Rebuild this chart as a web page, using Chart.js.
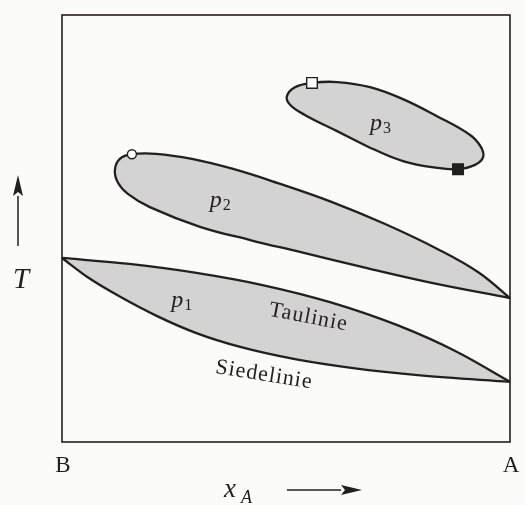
<!DOCTYPE html>
<html>
<head>
<meta charset="utf-8">
<script src="https://cdn.jsdelivr.net/npm/chart.js@4.4.1/dist/chart.umd.min.js"></script>
<style>
  html, body { margin: 0; padding: 0; background: #fbfbf9; }
  canvas { display: block; }
</style>
</head>
<body>
<canvas id="chart" width="525" height="505"></canvas>
<script>
// x: mole fraction of A in % (0 = pure B, 100 = pure A), T: temperature (arbitrary units)

// p1: dew line (Taulinie) and boiling line (Siedelinie)
const tauX  = [0, 15, 30, 45, 60, 75, 88, 100];
const tauT  = [43.1, 41.7, 39.6, 36.7, 32.7, 27.3, 21.2, 14.1];
const siedX = [0, 6, 13, 21, 30, 40, 52, 65, 80, 100];
const siedT = [43.1, 38.4, 34.0, 29.6, 25.5, 22.2, 19.4, 17.3, 15.6, 14.1];

// p2: closed loop, starts and ends at the tip on the A side
const p2X = [100, 93, 84, 72, 60, 48, 38, 29, 21, 15.6, 12.9, 11.8, 12.5, 14.7, 19.6, 30.8, 42.0, 53.1, 68.1, 82.8, 100];
const p2T = [33.7, 39.7, 45.1, 51.1, 56.3, 60.7, 64.0, 66.3, 67.5, 67.4, 66.3, 63.7, 60.7, 58.1, 55.0, 50.4, 47.3, 44.5, 40.7, 37.2, 33.7];

// p3: closed loop
const p3X = [68.75, 76.1, 83.7, 88.4, 92.2, 94.0, 93.5, 91.1, 83.7, 76.1, 68.75, 61.4, 55.8, 52.0, 50.2, 50.9, 54.2, 61.4, 68.75];
const p3T = [68.9, 65.8, 64.2, 63.9, 64.9, 66.7, 69.1, 71.9, 76.3, 80.3, 83.1, 84.3, 84.1, 83.1, 81.0, 79.0, 76.6, 72.8, 68.9];

// special points: open circle, open square, filled square
const markX = [15.6, 55.8, 88.4];
const markT = [67.4, 84.1, 63.9];

// label anchors
const pLabels = [
  { x: 26.6, t: 31.6, idx: '1' },
  { x: 35.2, t: 55.0, idx: '2' },
  { x: 71.0, t: 73.1, idx: '3' }
];
const lineLabels = [
  { text: 'Taulinie',   x: 55.0, t: 29.2, angle: 11 },
  { text: 'Siedelinie', x: 45.1, t: 15.7, angle: 9 }
];

const INK   = '#231f1f';
const GRAY  = '#d3d3d3';
const SERIF = '"Liberation Serif", "DejaVu Serif", serif';

const zip = (xs, ys) => xs.map((x, i) => ({ x, y: ys[i] }));

const curve = (data, extra) => Object.assign({
  data,
  showLine: true,
  borderColor: INK,
  borderWidth: 2.3,
  backgroundColor: GRAY,
  pointRadius: 0,
  pointHoverRadius: 0,
  tension: 0.4,
  clip: false
}, extra);

// ── Frame, labels and arrows ─────────────────
const decor = {
  id: 'decor',
  beforeDatasetsDraw(chart) {
    const { ctx, chartArea: a } = chart;
    ctx.save();
    ctx.strokeStyle = INK;
    ctx.lineWidth = 1.6;
    ctx.strokeRect(a.left, a.top, a.right - a.left, a.bottom - a.top);
    ctx.restore();
  },
  afterDatasetsDraw(chart) {
    const { ctx, chartArea: a, scales: { x, y } } = chart;
    ctx.save();
    ctx.fillStyle = INK;
    ctx.strokeStyle = INK;

    // p1, p2, p3
    pLabels.forEach(l => {
      const cx = x.getPixelForValue(l.x), by = y.getPixelForValue(l.t);
      ctx.font = `italic 24px ${SERIF}`;
      const w1 = ctx.measureText('p').width;
      ctx.font = `16px ${SERIF}`;
      const w2 = ctx.measureText(l.idx).width;
      const left = cx - (w1 + w2) / 2;
      ctx.textAlign = 'left';
      ctx.textBaseline = 'alphabetic';
      ctx.font = `italic 24px ${SERIF}`;
      ctx.fillText('p', left, by);
      ctx.font = `16px ${SERIF}`;
      ctx.fillText(l.idx, left + w1 + 1, by + 3);
    });

    // Taulinie / Siedelinie along the curves
    ctx.font = `22px ${SERIF}`;
    ctx.letterSpacing = '1px';
    ctx.textAlign = 'center';
    ctx.textBaseline = 'middle';
    lineLabels.forEach(l => {
      ctx.save();
      ctx.translate(x.getPixelForValue(l.x), y.getPixelForValue(l.t));
      ctx.rotate(l.angle * Math.PI / 180);
      ctx.fillText(l.text, 0, 0);
      ctx.restore();
    });
    ctx.letterSpacing = '0px';

    // B and A under the ends of the composition axis
    ctx.font = `23px ${SERIF}`;
    ctx.textBaseline = 'alphabetic';
    ctx.fillText('B', a.left + 1, 472);
    ctx.fillText('A', a.right + 1, 472);

    // x_A with arrow
    ctx.textAlign = 'left';
    ctx.font = `italic 27px ${SERIF}`;
    ctx.fillText('x', 224, 497);
    ctx.font = `italic 18px ${SERIF}`;
    ctx.fillText('A', 241, 503);
    arrow(ctx, 287, 490, 362, 490);

    // T with arrow
    ctx.textAlign = 'center';
    ctx.font = `italic 29px ${SERIF}`;
    ctx.fillText('T', 21, 288);
    arrow(ctx, 18, 246, 18, 175);

    ctx.restore();
  }
};

function arrow(ctx, x0, y0, x1, y1) {
  const ang = Math.atan2(y1 - y0, x1 - x0), len = 21, half = 5;
  const bx = x1 - len * Math.cos(ang), by = y1 - len * Math.sin(ang);
  ctx.lineWidth = 1.5;
  ctx.beginPath();
  ctx.moveTo(x0, y0);
  ctx.lineTo(bx, by);
  ctx.stroke();
  ctx.beginPath();
  ctx.moveTo(x1, y1);
  ctx.lineTo(bx - half * Math.sin(ang), by + half * Math.cos(ang));
  ctx.lineTo(bx + 4 * Math.cos(ang), by + 4 * Math.sin(ang));
  ctx.lineTo(bx + half * Math.sin(ang), by - half * Math.cos(ang));
  ctx.closePath();
  ctx.fill();
}

new Chart(document.getElementById('chart'), {
  type: 'scatter',
  data: {
    datasets: [
      {
        data: zip(markX, markT),
        pointStyle: ['circle', 'rect', 'rect'],
        pointRadius: [4.5, 7.5, 7.5],
        pointBackgroundColor: ['#ffffff', '#ffffff', INK],
        pointBorderColor: INK,
        pointBorderWidth: 1.4,
        pointHoverRadius: [4.5, 7.5, 7.5],
        clip: false
      },
      curve(zip(p3X, p3T), { fill: 'shape' }),
      curve(zip(p2X, p2T), { fill: 'shape' }),
      curve(zip(tauX, tauT), { fill: '+1', cubicInterpolationMode: 'monotone' }),
      curve(zip(siedX, siedT), { fill: false, cubicInterpolationMode: 'monotone' })
    ]
  },
  options: {
    responsive: false,
    animation: false,
    events: [],
    layout: { padding: { left: 62, right: 15, top: 15, bottom: 63 } },
    scales: {
      x: { display: false, min: 0, max: 100 },
      y: { display: false, min: 0, max: 100 }
    },
    plugins: {
      legend: { display: false },
      tooltip: { enabled: false },
      // all areas first, so no fill covers a neighbouring outline
      filler: { drawTime: 'beforeDatasetsDraw' }
    }
  },
  plugins: [decor]
});
</script>
</body>
</html>
